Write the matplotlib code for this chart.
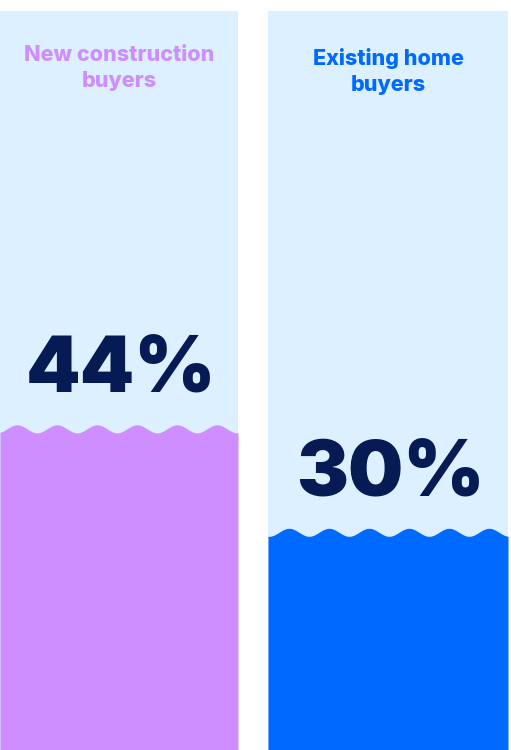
import numpy as np
import matplotlib.pyplot as plt

groups = ['New construction\nbuyers', 'Existing home\nbuyers']
values = [44, 30]
labels = ['44%', '30%']

fill_colors = ['#CE8EFF', '#0069FF']
title_colors = ['#CE8EFF', '#0069FF']
bg = '#DDF0FF'
num_color = '#061A54'

W, H = 511, 750
fig = plt.figure(figsize=(W / 100, H / 100), dpi=100)
fig.patch.set_facecolor('white')

# panel boxes in pixels: left, right, top
panels = [(0, 238, 11), (268, 508, 11)]
crest_offset = [17, 21]
title_drop = [34, 37]
period = 40.0
amp = 4.0

for i, (x0, x1, top) in enumerate(panels):
    w = x1 - x0
    h = H - top
    ax = fig.add_axes([x0 / W, 0, w / W, h / H])
    ax.set_facecolor(bg)
    ax.set_xlim(0, w)
    ax.set_ylim(0, 100)
    px = 100.0 / h  # data units per pixel
    x = np.linspace(0, w, 600)
    wave = values[i] - amp * px + amp * px * np.cos(2 * np.pi * (x - crest_offset[i]) / period)
    ax.fill_between(x, 0, wave, color=fill_colors[i], lw=0)
    ax.text(w / 2 + 2, values[i] + 33 * px, labels[i], ha='center', va='baseline',
            fontsize=56, fontweight='black', family='Inter', color=num_color)
    ax.text(w / 2, 100 - title_drop[i] * px, groups[i], ha='center', va='top',
            fontsize=15.5, fontweight='heavy', family='Inter', color=title_colors[i],
            linespacing=1.4)
    ax.set_xticks([])
    ax.set_yticks([])
    for s in ax.spines.values():
        s.set_visible(False)

fig.savefig('out.png', dpi=100, facecolor='white')
